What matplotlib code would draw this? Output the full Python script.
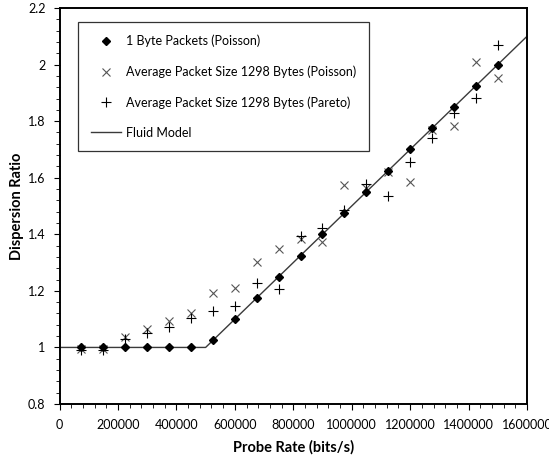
import numpy as np
import matplotlib
matplotlib.use('Agg')
import matplotlib.pyplot as plt
from matplotlib.ticker import MultipleLocator

#%%Data
probe_rate = [75000, 150000, 225000, 300000, 375000, 450000, 525000, 600000, 675000, 750000,
              825000, 900000, 975000, 1050000, 1125000, 1200000, 1275000, 1350000, 1425000, 1500000]
byte1_poisson = [1.0, 1.0, 1.0, 1.0, 1.0, 1.0, 1.025, 1.10, 1.175, 1.25,
                 1.325, 1.40, 1.475, 1.55, 1.625, 1.70, 1.775, 1.85, 1.925, 2.0]
avg1298_poisson = [0.995, 0.995, 1.038, 1.064, 1.093, 1.12, 1.193, 1.209, 1.301, 1.348,
                   1.382, 1.374, 1.574, 1.565, 1.62, 1.585, 1.77, 1.783, 2.009, 1.953]
avg1298_pareto = [0.99, 0.99, 1.03, 1.052, 1.071, 1.103, 1.13, 1.146, 1.227, 1.207,
                  1.394, 1.421, 1.486, 1.577, 1.535, 1.656, 1.739, 1.827, 1.883, 2.069]
fluid_x = [0, 500000, 1600000]
fluid_y = [1.0, 1.0, 2.1]

#%%Plot
plt.rcParams['font.family'] = ['Lato', 'DejaVu Sans']
fig = plt.figure(figsize=(5.49, 4.59), dpi=100)
ax = fig.add_axes([0.1084, 0.1198, 0.8516, 0.8628])

ax.plot(fluid_x, fluid_y, '-', color='#3a3a3a', lw=1.0, label='Fluid Model', zorder=2)
ax.plot(probe_rate, avg1298_poisson, 'x', color='#555555', ms=5.5, mew=0.8,
        label='Average Packet Size 1298 Bytes (Poisson)', zorder=3)
ax.plot(probe_rate, avg1298_pareto, '+', color='black', ms=6.5, mew=0.8,
        label='Average Packet Size 1298 Bytes (Pareto)', zorder=3)
ax.plot(probe_rate, byte1_poisson, 'D', color='black', ms=4.5,
        label='1 Byte Packets (Poisson)', zorder=4)

ax.set_xlim(0, 1600000)
ax.set_ylim(0.8, 2.2)
ax.xaxis.set_minor_locator(MultipleLocator(40000))
ax.yaxis.set_minor_locator(MultipleLocator(0.04))
ax.set_yticks(np.arange(0.8, 2.21, 0.2))
ax.set_yticklabels(['0.8', '1', '1.2', '1.4', '1.6', '1.8', '2', '2.2'])
ax.set_xticks(np.arange(0, 1600001, 200000))
ax.set_xticklabels([str(v) for v in range(0, 1600001, 200000)])
ax.tick_params(which='major', direction='out', length=4, width=0.8, labelsize=9, pad=7)
ax.tick_params(which='minor', direction='out', length=3, width=0.6)
ax.tick_params(axis='y', pad=6)
for s in ax.spines.values():
    s.set_linewidth(1.4)

ax.set_xlabel('Probe Rate (bits/s)', fontsize=10.5, fontweight='bold', labelpad=6)
ax.set_ylabel('Dispersion Ratio', fontsize=10.5, fontweight='bold', labelpad=3)

handles, labels = ax.get_legend_handles_labels()
order = [3, 1, 2, 0]
leg = ax.legend([handles[i] for i in order], [labels[i] for i in order],
                loc='upper left', bbox_to_anchor=(0.027, 0.98), fontsize=9,
                frameon=True, fancybox=False, edgecolor='black', borderpad=1.0,
                labelspacing=1.45, handlelength=2.4, handletextpad=0.4)
leg.get_frame().set_linewidth(0.9)

fig.savefig('out.png', dpi=100)
